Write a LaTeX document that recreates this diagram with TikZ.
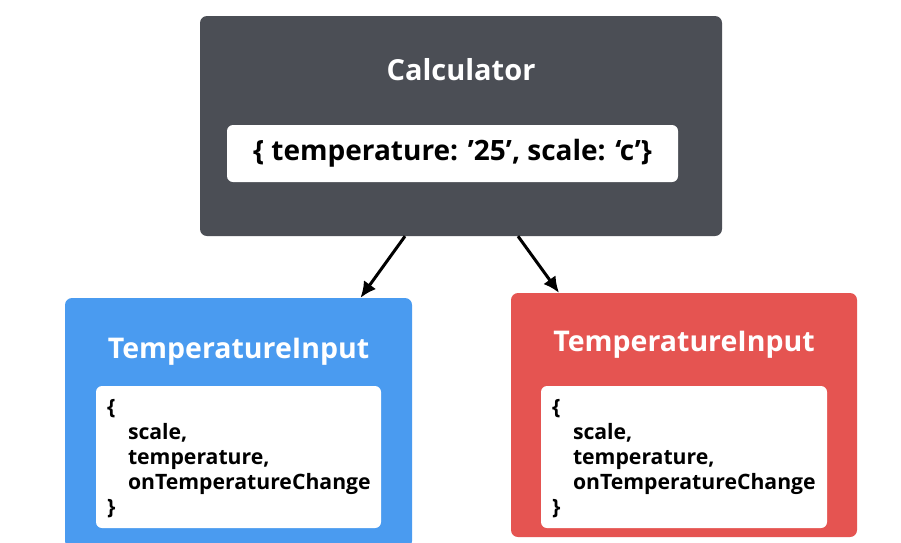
\documentclass[tikz,border=0pt]{standalone}
\usepackage{fontspec}
\setmainfont{Open Sans}
\usetikzlibrary{positioning, calc, arrows.meta}
\definecolor{calcgray}{HTML}{4B4E55}
\definecolor{inblue}{HTML}{4A9BF0}
\definecolor{inred}{HTML}{E55451}
\tikzset{
  comp/.style={rounded corners=7pt, inner sep=0pt, draw=none},
  whitebox/.style={rounded corners=6pt, fill=white, inner sep=0pt, draw=none},
  titletext/.style={text=white, font=\bfseries\fontsize{28.5}{32}\selectfont},
  listtext/.style={anchor=north west, align=left, inner sep=0pt, font=\bfseries\fontsize{21.2}{25}\selectfont},
  flow/.style={line width=3pt, -{Latex[length=16pt,width=15pt]}}
}
\begin{document}
\begin{tikzpicture}[x=1pt, y=-1pt]
        \useasboundingbox[fill=white] (0,0) rectangle (901,542);
        %componente padre
        \node[comp, fill=calcgray, minimum width=522pt, minimum height=220pt] (calc) at (461,126) {};
        \node[titletext, font=\bfseries\fontsize{29}{32}\selectfont] (calctitle) at (461,70) {Calculator};
        \node[whitebox, minimum width=451pt, minimum height=57pt] (state) at (452.5,153.5) {};
        \node[font=\bfseries\fontsize{28}{32}\selectfont] (statetext) at (452.5,153.5) {\{ temperature: ’25’, scale: ‘c’\}};

        %figlio blu
        \node[comp, fill=inblue, minimum width=347pt, minimum height=250pt] (blue) at (238.5,423) {};
        \node[titletext] (bluetitle) at (238.5,352) {TemperatureInput};
        \node[whitebox, minimum width=285pt, minimum height=142pt] (bluebox) at (238.5,457) {};
        \node[listtext] (bluelist) at ([shift={(11pt,-13pt)}]bluebox.north west)
          {\{\\\hspace*{21pt}scale,\\\hspace*{21pt}temperature,\\\hspace*{21pt}onTemperatureChange\\\}};

        %figlio rosso
        \node[comp, fill=inred, minimum width=346pt, minimum height=244pt] (red) at (684,415) {};
        \node[titletext] (redtitle) at (684,345) {TemperatureInput};
        \node[whitebox, minimum width=286pt, minimum height=142pt] (redbox) at (684,457) {};
        \node[listtext] (redlist) at ([shift={(11pt,-13pt)}]redbox.north west)
          {\{\\\hspace*{21pt}scale,\\\hspace*{21pt}temperature,\\\hspace*{21pt}onTemperatureChange\\\}};

        %frecce
        \draw[flow] ([xshift=-56pt]calc.south) -- ([xshift=122pt]blue.north);
        \draw[flow] ([xshift=57pt]calc.south) -- ([xshift=-125pt]red.north);
\end{tikzpicture}
\end{document}
